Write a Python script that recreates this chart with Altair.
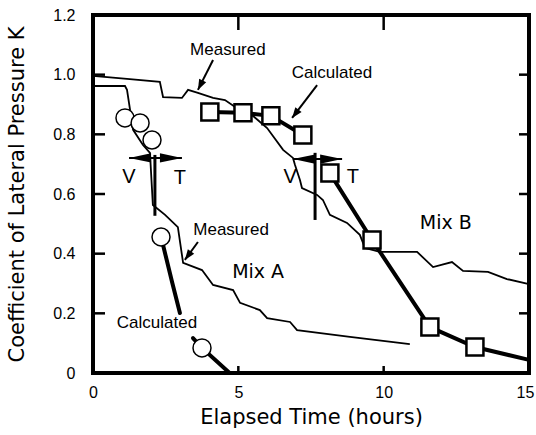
import math
import altair as alt
import pandas as pd

# ---------------- data ----------------
# Mix A, measured
a_meas_t = [0.0, 1.10, 1.17, 1.38, 1.72, 1.96, 2.06, 2.48, 2.92, 3.10, 3.75, 4.13,
            4.82, 5.06, 5.74, 5.99, 6.78, 7.02, 8.84, 10.90]
a_meas_k = [0.962, 0.962, 0.949, 0.815, 0.764, 0.738, 0.563, 0.530, 0.489, 0.369,
            0.345, 0.295, 0.278, 0.235, 0.211, 0.184, 0.171, 0.144, 0.121, 0.097]

# Mix B, measured
b_meas_t = [0.0, 1.17, 2.30, 2.41, 3.06, 3.27, 3.61, 4.13, 4.54, 4.89, 5.50, 5.99,
            6.54, 6.88, 6.95, 7.12, 7.19, 7.71, 7.91, 8.15, 8.74, 9.18, 9.36, 9.87,
            11.15, 11.70, 12.35, 12.73, 13.59, 14.24, 15.0]
b_meas_k = [0.996, 0.986, 0.976, 0.925, 0.922, 0.949, 0.939, 0.922, 0.915, 0.892,
            0.862, 0.821, 0.748, 0.721, 0.697, 0.647, 0.620, 0.597, 0.580, 0.530,
            0.503, 0.463, 0.419, 0.406, 0.406, 0.355, 0.372, 0.342, 0.339, 0.315,
            0.298]

# Mix A, calculated (two pieces of curve, broken by the label)
a_calc1_t = [2.34, 2.41, 2.72, 2.99]
a_calc1_k = [0.456, 0.429, 0.305, 0.201]
a_calc2_t = [3.44, 3.75, 4.70]
a_calc2_k = [0.117, 0.084, 0.0]
a_circle_t = [1.10, 1.62, 2.03, 2.34, 3.75]
a_circle_k = [0.855, 0.838, 0.781, 0.456, 0.084]

# Mix B, calculated
b_calc1_t = [4.02, 5.16, 6.12, 7.22]
b_calc1_k = [0.875, 0.872, 0.862, 0.798]
b_calc2_t = [8.15, 9.60, 11.59, 13.14, 15.0]
b_calc2_k = [0.670, 0.446, 0.154, 0.087, 0.044]
b_square_t = [4.02, 5.16, 6.12, 7.22, 8.15, 9.60, 11.59, 13.14]
b_square_k = [0.875, 0.872, 0.862, 0.798, 0.670, 0.446, 0.154, 0.087]

# V / T markers: stem time, stem bottom, stem top, arrow level, left tip, right tip
vt_stem_t = [2.13, 7.64]
vt_stem_k0 = [0.527, 0.513]
vt_stem_k1 = [0.731, 0.738]
vt_arrow_k = [0.721, 0.717]
vt_left_t = [1.24, 6.88]
vt_right_t = [3.06, 8.57]

# text labels (annotation words)
lab_text = ["Measured", "Calculated", "Measured", "Calculated", "V", "T", "V", "T"]
lab_t = [4.64, 8.22, 4.75, 2.20, 1.24, 2.99, 6.78, 8.94]
lab_k = [1.083, 1.006, 0.479, 0.168, 0.657, 0.654, 0.657, 0.657]
lab_size = [17, 17, 17, 17, 20, 20, 20, 20]

# mix names
mix_text = ["Mix A", "Mix B"]
mix_t = [5.68, 12.14]
mix_k = [0.339, 0.503]

# pointer arrows: tail -> tip
ptr_t0 = [4.13, 7.71, 3.61]
ptr_k0 = [1.049, 0.965, 0.439]
ptr_t1 = [3.61, 6.85, 3.16]
ptr_k1 = [0.949, 0.855, 0.379]

x_ticks = [0, 5, 10, 15]
y_ticks = [0, 0.2, 0.4, 0.6, 0.8, 1.0, 1.2]
inner_x_ticks = [5, 10]
inner_y_ticks = [0.2, 0.4, 0.6, 0.8, 1.0]

# ---------------- layout ----------------
W, H = 436, 358
XMAX, YMAX = 15.0, 1.2
FONT = "Liberation Sans"
WIDE = "DejaVu Sans"

xs = alt.Scale(domain=[0, XMAX], nice=False, zero=False)
ys = alt.Scale(domain=[0, YMAX], nice=False, zero=False)

x_axis = alt.Axis(values=x_ticks, title="Elapsed Time (hours)", grid=False,
                  ticks=False, domain=False, labelFlush=False,
                  labelPadding=11, labelFontSize=16, titleFontSize=21,
                  titlePadding=6, labelFont=FONT, titleFont=WIDE,
                  titleFontWeight="normal", labelColor="black",
                  titleColor="black", format="d",
                  labelOffset={"condition": {"test": "datum.value == 15", "value": -4},
                               "value": 0})
y_axis = alt.Axis(values=y_ticks, title="Coefficient of Lateral Pressure K",
                  grid=False, ticks=False, domain=False, labelFlush=False,
                  labelPadding=18, labelFontSize=16, titleFontSize=21,
                  titlePadding=25, labelFont=FONT, titleFont=WIDE,
                  titleFontWeight="normal", labelColor="black",
                  titleColor="black",
                  labelExpr="datum.value == 0 ? '0' : format(datum.value, '.1f')")


def screen_angle(t0, k0, t1, k1):
    dx = (t1 - t0) * W / XMAX
    dy = -(k1 - k0) * H / YMAX
    return math.degrees(math.atan2(dx, -dy)) % 360


def lines_df(pieces):
    rows = []
    for name, ts, ks in pieces:
        for i, (t, k) in enumerate(zip(ts, ks)):
            rows.append({"t": t, "k": k, "s": name, "i": i})
    return pd.DataFrame(rows)


meas_df = lines_df([("A", a_meas_t, a_meas_k), ("B", b_meas_t, b_meas_k)])
calc_df = lines_df([("A1", a_calc1_t, a_calc1_k), ("A2", a_calc2_t, a_calc2_k),
                    ("B1", b_calc1_t, b_calc1_k), ("B2", b_calc2_t, b_calc2_k)])
circ_df = pd.DataFrame({"t": a_circle_t, "k": a_circle_k})
sq_df = pd.DataFrame({"t": b_square_t, "k": b_square_k})
stem_df = pd.DataFrame({"t": vt_stem_t, "k0": vt_stem_k0, "k1": vt_stem_k1})
shaft_df = pd.DataFrame({"t0": vt_left_t, "t1": vt_right_t, "k": vt_arrow_k})
vthead_df = pd.DataFrame({
    "t": vt_left_t + vt_right_t,
    "k": vt_arrow_k + vt_arrow_k,
    "a": [270] * len(vt_left_t) + [90] * len(vt_right_t),
})
ptr_df = pd.DataFrame({"t0": ptr_t0, "k0": ptr_k0, "t1": ptr_t1, "k1": ptr_k1})
ptrhead_df = pd.DataFrame({
    "t": ptr_t1, "k": ptr_k1,
    "a": [screen_angle(a, b, c, d) for a, b, c, d in zip(ptr_t0, ptr_k0, ptr_t1, ptr_k1)],
})
lab_df = pd.DataFrame({"txt": lab_text, "t": lab_t, "k": lab_k, "fs": lab_size})
mix_df = pd.DataFrame({"txt": mix_text, "t": mix_t, "k": mix_k})


def X(f="t"):
    return alt.X(f"{f}:Q", scale=xs, axis=x_axis)


def Y(f="k"):
    return alt.Y(f"{f}:Q", scale=ys, axis=y_axis)


meas = alt.Chart(meas_df).mark_line(color="black", strokeWidth=1.8).encode(
    x=X(), y=Y(), detail="s:N", order="i:Q")

calc = alt.Chart(calc_df).mark_line(color="black", strokeWidth=4, strokeCap="round").encode(
    x=X(), y=Y(), detail="s:N", order="i:Q")

circles = alt.Chart(circ_df).mark_point(
    shape="circle", filled=True, fill="white", stroke="black", strokeWidth=1.5,
    size=324, opacity=1).encode(x=X(), y=Y())

squares = alt.Chart(sq_df).mark_point(
    shape="square", filled=True, fill="white", stroke="black", strokeWidth=2.5,
    size=289, opacity=1).encode(x=X(), y=Y())

stems = alt.Chart(stem_df).mark_rule(color="black", strokeWidth=3).encode(
    x=X(), y=Y("k0"), y2="k1:Q")

shafts = alt.Chart(shaft_df).mark_rule(color="black", strokeWidth=2).encode(
    x=X("t0"), x2="t1:Q", y=Y())

vtheads = alt.Chart(vthead_df).mark_point(
    shape="M0,0L-0.42,2L0.42,2Z", filled=True, color="black", size=484, opacity=1
).encode(x=X(), y=Y(), angle=alt.Angle("a:Q", scale=None))

ptrs = alt.Chart(ptr_df).mark_rule(color="black", strokeWidth=2).encode(
    x=X("t0"), y=Y("k0"), x2="t1:Q", y2="k1:Q")

ptrheads = alt.Chart(ptrhead_df).mark_point(
    shape="M0,0L-0.75,2L0.75,2Z", filled=True, color="black", size=110, opacity=1
).encode(x=X(), y=Y(), angle=alt.Angle("a:Q", scale=None))

labels = alt.Chart(lab_df).mark_text(
    font=FONT, color="black", align="center", baseline="middle").encode(
    x=X(), y=Y(), text="txt:N", size=alt.Size("fs:Q", scale=None))

mix_labels = alt.Chart(mix_df).mark_text(
    font=WIDE, fontSize=19, color="black", align="center", baseline="middle").encode(
    x=X(), y=Y(), text="txt:N")

# inward tick marks on all four sides
left_ticks = alt.Chart(pd.DataFrame({"k": inner_y_ticks})).mark_rule(
    color="black", strokeWidth=2.5).encode(x=alt.value(0), x2=alt.value(12), y=Y())
right_ticks = alt.Chart(pd.DataFrame({"k": inner_y_ticks})).mark_rule(
    color="black", strokeWidth=2.5).encode(x=alt.value(W - 10), x2=alt.value(W), y=Y())
top_ticks = alt.Chart(pd.DataFrame({"t": inner_x_ticks})).mark_rule(
    color="black", strokeWidth=2.5).encode(y=alt.value(0), y2=alt.value(15), x=X())
bottom_ticks = alt.Chart(pd.DataFrame({"t": inner_x_ticks})).mark_rule(
    color="black", strokeWidth=2.5).encode(y=alt.value(H - 7), y2=alt.value(H), x=X())

chart = alt.layer(
    meas, calc, stems, shafts, vtheads, ptrs, ptrheads, circles, squares, labels,
    mix_labels, left_ticks, right_ticks, top_ticks, bottom_ticks,
).properties(
    width=W, height=H,
    padding={"left": 93, "top": 15, "right": 7, "bottom": 62},
    autosize=alt.AutoSizeParams(type="none"),
    background="white",
).configure_view(
    stroke="black", strokeWidth=4
)

chart.save("out.html", embed_options={"renderer": "svg", "actions": False})
